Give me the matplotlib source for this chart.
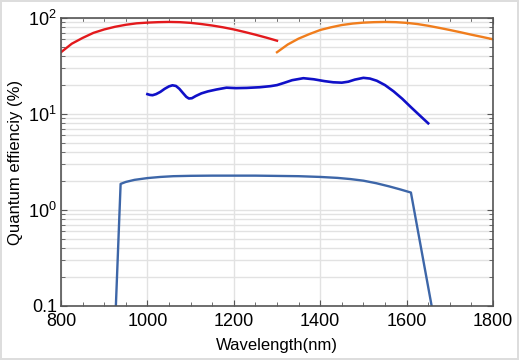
import matplotlib
matplotlib.use('Agg')
import matplotlib.pyplot as plt
from matplotlib.ticker import FixedLocator, LogLocator, MultipleLocator, NullFormatter

plt.rcParams['font.family'] = ['Liberation Sans', 'DejaVu Sans']
plt.rcParams['mathtext.fontset'] = 'custom'
plt.rcParams['mathtext.rm'] = 'Liberation Sans'
plt.rcParams['mathtext.it'] = 'Liberation Sans'

# red curve
redX = [800, 825, 850, 875, 900, 925, 950, 975, 1000, 1025, 1050, 1075, 1100,
        1125, 1150, 1175, 1200, 1225, 1250, 1275, 1300]
redY = [44, 54, 62, 70, 76, 81, 85, 88, 89.5, 90.5, 91, 90.5, 89,
        86.5, 83.5, 80, 76, 71.5, 67, 62.5, 58]

# orange curve
orangeX = [1300, 1325, 1350, 1375, 1400, 1425, 1450, 1475, 1500, 1525, 1550,
           1575, 1600, 1625, 1650, 1675, 1700, 1725, 1750, 1775, 1800]
orangeY = [44, 53, 61, 68, 75, 80, 84.5, 87.5, 89.5, 90.5, 91,
           90.5, 89, 86.5, 83, 79, 75, 71, 67, 63.5, 60]

# dark blue curve
blueX = [1000, 1006, 1012, 1020, 1030, 1040, 1050, 1058, 1066, 1074, 1082, 1090, 1096,
         1103, 1112, 1125, 1140, 1160, 1183, 1205, 1230, 1260, 1285, 1300, 1315, 1335,
         1361, 1385, 1410, 1430, 1450, 1465, 1480, 1500, 1515, 1531, 1550, 1570, 1590,
         1609, 1630, 1650]
blueY = [16.1, 15.8, 15.7, 16.1, 17.0, 18.3, 19.4, 19.9, 19.6, 18.3, 16.6, 15.1, 14.5,
         14.6, 15.4, 16.4, 17.2, 18.0, 18.8, 18.6, 18.7, 19.0, 19.5, 20.0, 21.0, 22.5,
         23.6, 23.0, 22.0, 21.4, 21.2, 21.7, 22.8, 23.8, 23.4, 22.2, 20.0, 17.2, 14.4,
         11.9, 9.7, 8.0]

# steel blue curve
steelX = [927, 938, 950, 970, 1000, 1030, 1060, 1100, 1150, 1250, 1350, 1400, 1440,
          1470, 1500, 1530, 1560, 1585, 1610, 1658]
steelY = [0.1, 1.87, 1.96, 2.06, 2.15, 2.21, 2.25, 2.27, 2.28, 2.28, 2.25, 2.21, 2.16,
          2.10, 2.02, 1.90, 1.76, 1.64, 1.52, 0.1]

yTicks = [0.1, 1, 10, 100]
yTickLabels = ['0.1', '$10^0$', '$10^1$', '$10^2$']
xTicks = [800, 1000, 1200, 1400, 1600, 1800]

fig = plt.figure(figsize=(5.19, 3.6), dpi=100)
fig.patch.set_edgecolor('#dddddd')
fig.patch.set_linewidth(1.5)
ax = fig.add_axes([61 / 519, 1 - 306 / 360, 432 / 519, 288 / 360])

ax.plot(redX, redY, color='#e3191c', lw=1.7)
ax.plot(orangeX, orangeY, color='#f07d1c', lw=1.7)
ax.plot(blueX, blueY, color='#1010c8', lw=1.9)
ax.plot(steelX, steelY, color='#3d66a8', lw=1.7)

ax.set_yscale('log')
ax.set_xlim(800, 1800)
ax.set_ylim(0.1, 100)
ax.yaxis.set_major_locator(FixedLocator(yTicks))
ax.set_yticklabels(yTickLabels)
ax.yaxis.set_minor_locator(LogLocator(base=10, subs=range(2, 10)))
ax.yaxis.set_minor_formatter(NullFormatter())
ax.set_xticks(xTicks)
ax.xaxis.set_minor_locator(MultipleLocator(50))

ax.grid(True, which='major', color='#e2e2e2', lw=1)
ax.grid(True, which='minor', axis='y', color='#e2e2e2', lw=1)
ax.set_axisbelow(True)

ax.tick_params(which='both', direction='in', top=True, right=True, colors='#555555',
               labelcolor='black', labelsize=13)
ax.tick_params(which='major', length=4)
ax.tick_params(which='minor', length=3)
ax.tick_params(axis='x', pad=5)
ax.tick_params(axis='y', pad=3)
for s in ax.spines.values():
    s.set_color('#555555')
    s.set_linewidth(1.2)

ax.set_xlabel('Wavelength(nm)', fontsize=12, labelpad=6)
ax.set_ylabel('Quantum effienciy (%)', fontsize=12)
ax.yaxis.set_label_coords(-0.088, 0.5)

fig.savefig('out.png', dpi=100)
